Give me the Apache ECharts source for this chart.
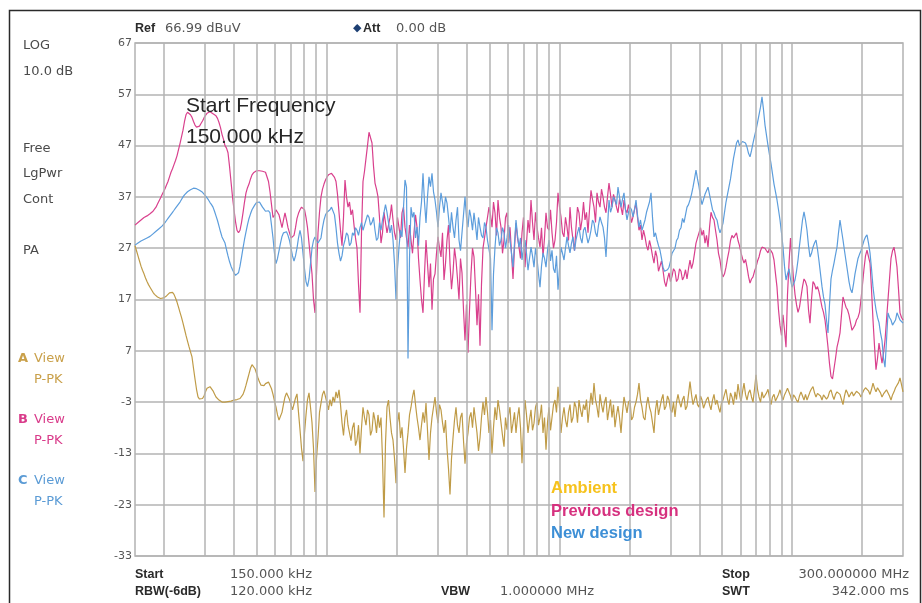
<!DOCTYPE html>
<html>
<head>
<meta charset="utf-8">
<script src="https://cdn.jsdelivr.net/npm/echarts@6/dist/echarts.min.js"></script>
<style>
html,body{margin:0;padding:0;background:#fff;}
#chart{width:922px;height:603px;}
</style>
</head>
<body>
<div id="chart"></div>
<script>
// Sweep definition (from the instrument read-out): equally spaced points on a log frequency axis
const sweepStartMHz = 0.15;
const sweepStopMHz = 300;

// Trace levels in dBuV, one value per sweep point
const ambient = [
 27.5, 26.5, 25.5, 24.5, 23.5, 22.7, 22, 21.2, 20.5, 19.9, 19.4, 18.9, 18.4, 18, 17.7, 17.5, 17.3, 17.2, 17.2, 17.3,
 17.4, 17.7, 18, 18.3, 18.5, 18.4, 18, 17.3, 16.5, 15.5, 14.5, 13.5, 12.4, 11.2, 10, 8.9, 7.8, 6.8, 5.8, 3.6,
 1.5, -0.5, -2, -2.4, -2.5, -2.3, -1.8, -1, -0.3, 0, 0, -0.3, -0.8, -1.4, -2, -2.3, -2.6, -2.8, -3, -3,
 -3, -3, -2.9, -2.9, -2.8, -2.7, -2.6, -2.6, -2.5, -2.4, -2.3, -2, -1.5, -0.7, 0.3, 1.4, 2.5, 3.6, 4.3, 4.2,
 3.5, 2.6, 1.7, 0.9, 0.3, 0.1, 0.2, 0.6, 0.8, 0.9, 0.6, -0.4, -1.5, -2.8, -4, -5.5, -6.5, -6.2, -5, -3.4,
 -2, -1.2, -1, -2.5, -3.5, -4.5, -4.2, -2.2, -1.4, -5, -8.4, -12, -14.5, -9, -5.5, -2.5, -1.2, -4, -7, -12,
 -20.5, -14, -10, -5, -3.2, -1.5, -0.8, -2, -3.2, -4.5, -2.5, -3.8, -2, -3, -1, -2.2, -0.6, -3.5, -7, -9.5,
 -6, -4.5, -7.5, -9, -10.5, -8, -7, -11.5, -10.4, -7.5, -13, -8, -4, -6, -7.5, -4.5, -5.5, -9.5, -8.5, -5,
 -6.5, -9, -5.5, -8, -6, -14, -25.5, -11, -4, -2.6, -6, -9, -10.4, -14, -18.8, -7, -5, -10, -7.9, -12,
 -16.8, -12, -9, -5.5, -4, -2, -0.6, -3.5, -6, -8, -10.4, -7.5, -5, -7, -3.2, -8.5, -14.3, -9, -6, -4,
 -2, -5, -7.1, -3.5, -4.5, -7, -9, -6.5, -12, -16, -21, -14, -10, -6.5, -4, -7.5, -9, -6, -5.1, -10.5,
 -15, -11, -9, -6, -5, -8, -4, -6.5, -9, -12.5, -10, -6, -3, -5.5, -2, -5, -9, -6.5, -13, -8,
 -4, -6.5, -2.6, -4.5, -7, -9.5, -11.7, -6, -8.4, -5.5, -4, -9, -7.1, -5, -9, -6, -4, -8, -14.9, -8,
 -2.6, -5.5, -9, -6.5, -4.5, -8.5, -7.1, -4, -3, -7.5, -6, -3.5, -9, -6, -12.3, -7, -4, -8.5, -6, -3.5,
 -2.6, -5, 0, -4, -9, -6, -4, -6.5, -7.9, -5, -3.5, -7, -6, -3, -4, -7, -2.6, -4.5, -5.9, -3.5,
 -4.5, -2.5, -7, -4, -1.2, -3.5, 0.7, -2.5, -4, -6, -1.5, -3.5, -5, -3, -2, -6.5, -4.5, -2.5, -6, -3.5,
 -7.9, -5.5, -3.8, -6, -9, -5, -2, -3.5, -5.1, -3, -2.6, -6.5, -5.9, -4, -3, -1.5, 0.7, -2.5, -4, -6,
 -6.5, -3.5, -2, -4, -5, -7, -9, -4.5, -2.6, -5.5, -4, -2.5, -1.5, -4.5, -3.8, -1.8, -2.6, -4.5, -5, -3,
 -5.9, -3, -1.5, -3, -4, -2.5, -1.8, -4.5, -3.8, -1.5, 1, -1.5, -3.5, -2.5, -1.5, -3.5, -4, -1.8, -2.6, -4.2,
 -4, -2.5, -2, -3.5, -4.5, -2.6, -1.5, -3.5, -2.6, -4, -5, -3.2, -2.6, -1.5, -0.5, -2.4, -3.5, -1.2, -2, -3.5,
 -1, -2.5, 0.5, -1.5, -3, -1, 0.7, -1.5, -2.6, -1.2, -0.6, -2, -3, -0.5, 2.3, -0.5, -2, -3, -1, -2.2,
 -2.5, -1.2, -0.5, -2.2, -3.5, -2, -1.5, -2.8, -3, -1.5, -0.6, -1.8, -2.6, -1.6, -1, -0.3, 0, -1.8, -3, -1.6,
 -2, -2.6, -3, -1.8, -1, -1.8, -2.6, -1.5, -2.6, -1.8, -1, -0.4, 0, -1.2, -2, -1.3, -1, -1.8, -2.6, -1.6,
 -1.5, -2.4, -2, -1, -0.6, -1.7, -2.5, -1.5, -1, -0.8, -1.5, -2.5, -3.5, -1.8, -0.6, -1.2, -2, -1.4, -1, -1.8,
 -1.5, -0.9, -0.6, -1.4, -2, -1.2, -0.6, -0.2, 0, -0.8, -1.5, -0.5, 0.7, -0.3, -1, -0.2, -0.3, -1.2, -2, -1.4,
 -1.5, -0.6, -0.5, -1.8, -2.6, -1.6, -1, -0.2, 0, 0.8, 1.7, 0.4, -1
];

const previousDesign = [
 31.5, 31.7, 32, 32.2, 32.5, 32.7, 33, 33.1, 33.3, 33.5, 33.7, 33.9, 34.2, 34.6, 35, 35.6, 36.2, 36.8, 37.4, 38,
 38.6, 39.3, 40, 40.9, 41.8, 42.5, 43.3, 44.1, 45, 46.2, 47.4, 48.7, 50, 51.7, 53, 53.5, 53.4, 53, 52.5, 51.7,
 51, 50.6, 50.4, 50.8, 51.3, 51.8, 52.4, 52.9, 53.3, 53.5, 53.6, 53.4, 53.2, 53, 52.8, 52.3, 51.5, 50.5, 49.2, 48.2,
 47, 46.5, 45.6, 43, 40, 37, 34.5, 32.2, 30.5, 30, 30.5, 32, 33.9, 36, 37.8, 38.8, 39.5, 40.5, 41.3, 41.7,
 42, 42.1, 42.1, 42.1, 42, 42, 41.9, 41.8, 41.5, 40, 38, 35.5, 33, 33.4, 34.5, 34.5, 33.5, 32.3, 31, 32.5,
 33.9, 32.5, 31, 30, 29, 28.8, 29.5, 31, 32.8, 33.8, 34.5, 35, 35.2, 34.5, 33, 31, 28, 25, 22, 17,
 14.4, 22, 30, 34, 37, 38.5, 39.5, 40.3, 40.9, 41.3, 41.6, 41.6, 41.3, 40.8, 40, 37.5, 34, 30.5, 27.5, 33,
 40.3, 37, 35, 36, 33.5, 34.5, 31.5, 29, 27, 20, 14.4, 30, 40, 42, 44.5, 47, 49.6, 49.3, 47.5, 43,
 39.7, 38.5, 37, 33, 28, 30, 34, 32, 30, 31.5, 33, 35.5, 32.5, 30, 28.6, 33, 31, 29, 33.9, 35,
 31.1, 29, 27.2, 31.5, 28.6, 26, 30, 33.5, 31.1, 25, 20.8, 17, 14.4, 22, 28.6, 24, 19.4, 24, 15, 21,
 22, 26, 29.2, 27, 25.3, 30, 20.8, 24, 28.6, 31.5, 24, 19, 22.2, 27, 24.7, 21, 17, 25, 22.2, 15,
 9, 16, 6.6, 15, 22, 27, 25.3, 19, 12, 18, 8, 20, 27, 29, 31.1, 33, 35, 33.5, 31.1, 36,
 33.9, 29.5, 36.4, 33, 31.1, 26, 28.6, 33, 33.9, 28, 31.1, 26, 21, 27, 31.9, 29, 27.2, 25, 30, 33,
 23.3, 28, 32.5, 30, 36.4, 32, 28.6, 34, 31.1, 29, 27.2, 31, 25.3, 29, 33.9, 31, 30.5, 34.5, 30, 27,
 28.6, 32, 37.8, 35, 33.1, 30, 29.2, 33, 31.1, 28.5, 35, 31, 28.6, 26.5, 31.1, 35, 33.9, 30.5, 32.5, 36,
 32.5, 34, 30, 34.5, 38.3, 36.5, 35, 32, 37.8, 36, 35, 38.5, 37, 35, 33.9, 37, 39.7, 37.5, 35, 37.5,
 36.4, 35, 33.9, 36.5, 35, 33.5, 36.4, 34.5, 33.9, 35.5, 34, 32, 33.1, 34.5, 35.8, 33, 30.5, 31.5, 28.6, 30.5,
 29.2, 27.5, 26.6, 28.5, 27.2, 25.5, 24.1, 26.5, 25.3, 22.5, 23.5, 24.5, 22.7, 20.5, 19.5, 21, 22.2, 20.5, 21.5, 23,
 22.5, 20.5, 21, 23, 22.5, 20.8, 21.5, 22.8, 21, 23, 24.7, 23, 24.1, 26, 28, 29, 30, 31, 29.5, 30.5,
 28, 29.5, 27.2, 31, 34, 33, 32.5, 30.5, 28.6, 26, 24.7, 22.5, 21.4, 22, 23.3, 25, 26.5, 28.5, 29.5, 29,
 29.5, 30, 28.5, 27.5, 26.1, 25, 24.1, 24.8, 23.3, 21.5, 20.2, 21, 21.4, 22.5, 23.3, 24.5, 25.3, 26.5, 27.2, 27.5,
 27, 26.5, 26.1, 27, 27.2, 26, 24.7, 22, 19.4, 15, 12, 10, 14, 11, 7.7, 18, 24, 29, 25, 21,
 18, 16, 14.5, 15.5, 17.5, 19.5, 21, 20.5, 19.5, 15, 12.4, 17, 20.5, 20, 19, 19.5, 18.5, 17, 15.5, 14.5,
 13, 10.5, 7.7, 4.5, 2, 1.5, 3.5, 5.5, 7.7, 9, 10.5, 14, 17.5, 16.5, 15.5, 15, 14, 12.5, 11, 11.5,
 12, 13, 13.5, 14.5, 17, 20, 23, 25.5, 26.6, 26.5, 24.1, 19, 13, 8, 3.3, 5.5, 8.5, 6.5, 4.6, 6.5,
 9, 13, 17, 21, 25, 26.5, 27.2, 25.5, 23.3, 19, 14.4, 13.5, 13
];

const newDesign = [
 27.6, 27.8, 28, 28.2, 28.4, 28.5, 28.7, 28.8, 29, 29.1, 29.3, 29.5, 29.8, 30, 30.3, 30.5, 30.8, 31, 31.3, 31.6,
 32, 32.4, 32.8, 33.2, 33.6, 34, 34.4, 34.8, 35.2, 35.6, 36, 36.5, 37, 37.4, 37.7, 38, 38.2, 38.4, 38.6, 38.7,
 38.7, 38.6, 38.5, 38.3, 38.1, 37.9, 37.6, 37.2, 36.8, 36.4, 35.9, 35.5, 35, 34.2, 33.3, 32.4, 31.3, 30.2, 29.2, 28.6,
 28, 26.7, 25.5, 24.4, 23.5, 22.8, 22.2, 21.7, 21.4, 22.2, 23.5, 25.2, 27, 28.7, 30.2, 31.6, 32.8, 33.7, 34.5, 35,
 35.5, 35.9, 36.2, 36, 35.5, 35, 34.6, 34.2, 34, 34.3, 33.9, 31.5, 29, 26, 24, 25, 26.5, 28, 29.3, 30,
 30, 30.2, 29.5, 28.5, 27, 25.5, 24.5, 25.5, 27, 29, 30.5, 29, 26, 23, 20.5, 19.5, 21, 24, 27, 28.5,
 29.2, 28.5, 28, 28.3, 29, 31, 32.5, 33.5, 34, 34.2, 34.5, 35, 35, 33.5, 31, 28, 26, 24.5, 25.5, 27.5,
 28.6, 30, 29.5, 27.5, 28, 30, 29.5, 31, 30.5, 29.5, 31, 32, 30.5, 31.5, 32.5, 33.5, 33, 31.5, 32, 33,
 30.5, 28.5, 29, 32, 30.5, 32.5, 34, 35.5, 34, 32, 30, 31.5, 28.6, 24, 17, 23, 27.2, 30.5, 29.2, 35,
 40.3, 38.9, 5.5, 25, 35, 33, 34, 29, 31.1, 27.5, 33, 36, 41.6, 36, 31.9, 37, 40.9, 39, 41.6, 38,
 36.4, 34, 31.1, 35, 37.8, 36, 33.9, 37, 35.8, 33, 30, 34, 31.1, 29, 32.5, 35, 28.6, 26.5, 30, 33.5,
 37, 33, 31.1, 34.5, 33, 30.5, 33.9, 31.5, 28.6, 33, 31.1, 29.5, 29, 32, 31.1, 28.5, 28.6, 25, 11, 22,
 27.2, 31, 30, 27.5, 28.6, 31, 30, 27, 29, 31.5, 28.6, 26, 23.3, 28, 32.5, 29.5, 27.2, 29, 24.7, 27,
 28.6, 26, 22.7, 25, 27.2, 25.5, 23.3, 27, 25, 22, 19.4, 23.5, 26.1, 25, 23.3, 26.5, 28.6, 24.5, 26.6, 23,
 22.2, 25.5, 18.9, 23, 27.2, 26, 24.7, 27, 29.2, 27.5, 26.1, 28, 29.2, 26.5, 28.6, 30, 31.1, 29, 28, 30.5,
 31.1, 29.5, 28, 29, 30.5, 32.5, 31.9, 30, 29.2, 31.5, 33.1, 32, 31.1, 29, 25.3, 31, 36.4, 34, 35, 37,
 37, 35.5, 38.9, 37, 35, 36.5, 37.8, 34.5, 32.5, 34, 35, 34.5, 33.1, 34.5, 36.4, 33.5, 31.1, 32.5, 30.5, 31.5,
 32.5, 34, 35, 36, 37.8, 33, 29.2, 30, 28.6, 27.5, 26.6, 25, 23.3, 22.5, 22.2, 22.8, 23.3, 24.5, 26, 26.5,
 27, 28.5, 29, 30.5, 31, 32.8, 32, 33.5, 35, 35.5, 36.4, 37.5, 38.9, 40.5, 42.2, 40.5, 39, 37, 35.5, 36.5,
 37.5, 37.8, 38.9, 37.5, 36, 34.5, 33.9, 33, 32.5, 31, 30, 30.8, 31.9, 34, 36, 37.5, 39, 40.5, 42.5, 44.5,
 46, 47.5, 48.1, 47, 46.7, 47.8, 48.1, 47.5, 46.7, 45.5, 44.8, 46, 47.5, 48.8, 50, 51.5, 53, 54.5, 56.5, 54,
 51, 49, 47, 45.2, 43.5, 41.5, 39.5, 38, 36.4, 34.5, 32.5, 30, 27.2, 23.5, 20.8, 22, 23, 21, 19.4, 20,
 20.8, 22.5, 24.7, 27.5, 30, 32.5, 34.1, 32.5, 30.5, 27.5, 25.3, 26, 27.2, 28, 28.6, 26.8, 24.5, 22, 19.5, 17.5,
 16, 13, 10.5, 16, 21, 22.7, 24.1, 25.7, 27.2, 30, 32.5, 30.5, 28.6, 26.5, 24.5, 22.5, 20.5, 19, 18.3, 20,
 22, 23.5, 25, 25.8, 26.5, 27.5, 28.5, 29.2, 29.6, 28, 26.1, 23, 19.4, 17, 15, 13.5, 12.5, 10.5, 9, 5.5,
 3.8, 9, 14.4, 13.5, 13, 12, 11.7, 13, 14.4, 13.7, 13, 12.7, 12.4
];

// Graticule: vertical grid frequencies (MHz) and level axis
const gridFreqsMHz = [0.2,0.3,0.4,0.5,0.6,0.7,0.8,0.9,1,2,3,4,5,6,7,8,9,10,20,30,40,50,60,70,80,90,100,200];
const levelMin = -33, levelMax = 67, levelStep = 10;

const seriesNames = ['Ambient', 'Previous design', 'New design'];
const traceColors = ['#bf9b47', '#d9408d', '#5c9ddc'];
const legendColors = ['#f6c21c', '#d6317f', '#3d8fd6'];

const sideLabels = ['LOG', '10.0 dB', 'Free', 'LgPwr', 'Cont', 'PA'];
const traceLabels = [['A', 'View', 'P-PK'], ['B', 'View', 'P-PK'], ['C', 'View', 'P-PK']];
const headerText = { ref: 'Ref', refVal: '66.99 dBuV', att: 'Att', attVal: '0.00 dB' };
const footerText = {
  start: 'Start', startVal: '150.000 kHz',
  rbw: 'RBW(-6dB)', rbwVal: '120.000 kHz',
  vbw: 'VBW', vbwVal: '1.000000 MHz',
  stop: 'Stop', stopVal: '300.000000 MHz',
  swt: 'SWT', swtVal: '342.000 ms'
};
const annotation = ['Start Frequency', '150.000 kHz'];

function toPairs(vals) {
  const n = vals.length;
  return vals.map((v, i) => [sweepStartMHz * Math.pow(sweepStopMHz / sweepStartMHz, i / (n - 1)), v]);
}

const chart = echarts.init(document.getElementById('chart'), null, { renderer: 'canvas' });

const valFont = '13px "DejaVu Sans"';
const boldFont = 'bold 12.5px "Liberation Sans"';
function txt(text, x, y, font, fill, align) {
  return { type: 'text', silent: true, z: 100,
    style: { text: text, x: x, y: y, font: font, fill: fill, align: align || 'left', verticalAlign: 'middle' } };
}

const graphics = [
  { type: 'rect', silent: true, z: 0, shape: { x: 9.5, y: 10.5, width: 911, height: 620 },
    style: { fill: 'none', stroke: '#2a2a2a', lineWidth: 1.5 } },
  txt(headerText.ref, 135, 29, boldFont, '#2b2b2b'),
  txt(headerText.refVal, 165, 29, valFont, '#555'),
  txt('\u25C6', 353, 28, '11px "DejaVu Sans"', '#1d3f73'),
  txt(headerText.att, 363, 29, boldFont, '#2b2b2b'),
  txt(headerText.attVal, 396, 29, valFont, '#555'),
  txt(footerText.start, 135, 575, boldFont, '#2b2b2b'),
  txt(footerText.startVal, 230, 575, valFont, '#555'),
  txt(footerText.rbw, 135, 592, boldFont, '#2b2b2b'),
  txt(footerText.rbwVal, 230, 592, valFont, '#555'),
  txt(footerText.vbw, 441, 592, boldFont, '#2b2b2b'),
  txt(footerText.vbwVal, 500, 592, valFont, '#555'),
  txt(footerText.stop, 722, 575, boldFont, '#2b2b2b'),
  txt(footerText.stopVal, 909, 575, valFont, '#555', 'right'),
  txt(footerText.swt, 722, 592, boldFont, '#2b2b2b'),
  txt(footerText.swtVal, 909, 592, valFont, '#555', 'right'),
  txt(annotation[0], 186, 106, '21px "Liberation Sans"', '#262626'),
  txt(annotation[1], 186, 137, '21px "Liberation Sans"', '#262626')
];
const sideY = [46, 72, 149, 174, 200, 251];
sideLabels.forEach((t, i) => graphics.push(txt(t, 23, sideY[i], '13px "DejaVu Sans"', '#4a4a4a')));
const tlColors = ['#c9a04a', '#d93b8a', '#5b9bd5'];
const tlY = [359, 420, 481];
traceLabels.forEach((t, i) => {
  graphics.push(txt(t[0], 18, tlY[i], 'bold 13px "DejaVu Sans"', tlColors[i]));
  graphics.push(txt(t[1], 34, tlY[i], '13px "DejaVu Sans"', tlColors[i]));
  graphics.push(txt(t[2], 34, tlY[i] + 21, '13px "DejaVu Sans"', tlColors[i]));
});
const legY = [488, 511, 533];
seriesNames.forEach((n, i) => graphics.push(txt(n, 551, legY[i], 'bold 16.5px "Liberation Sans"', legendColors[i])));

const traces = [ambient, previousDesign, newDesign];

chart.setOption({
  animation: false,
  backgroundColor: '#fff',
  grid: { left: 135, right: 19, top: 43, bottom: 47, show: true, borderColor: '#b3b3b3', borderWidth: 1.5, backgroundColor: 'transparent' },
  xAxis: {
    type: 'log', logBase: 10, min: sweepStartMHz, max: sweepStopMHz,
    axisLine: { show: false }, axisTick: { show: false }, axisLabel: { show: false },
    splitLine: { show: false }, minorSplitLine: { show: false }
  },
  yAxis: {
    type: 'value', min: levelMin, max: levelMax, interval: levelStep,
    axisLine: { show: false }, axisTick: { show: false },
    axisLabel: { color: '#555', fontSize: 11, fontFamily: 'DejaVu Sans', margin: 3 },
    splitLine: { show: true, lineStyle: { color: '#b3b3b3', width: 1.5 } }
  },
  graphic: graphics,
  series: [
    {
      type: 'line', name: 'grid', data: [], z: 1, silent: true,
      markLine: {
        silent: true, symbol: ['none', 'none'], animation: false,
        label: { show: false },
        lineStyle: { color: '#b3b3b3', width: 1.5, type: 'solid' },
        data: gridFreqsMHz.map(f => ({ xAxis: f }))
      }
    }
  ].concat(traces.map((vals, i) => ({
    type: 'line', name: seriesNames[i], data: toPairs(vals), z: 2 + i,
    showSymbol: false, symbol: 'none', silent: true, sampling: null,
    lineStyle: { color: traceColors[i], width: 1.2 },
    itemStyle: { color: traceColors[i] }
  })))
});
</script>
</body>
</html>
